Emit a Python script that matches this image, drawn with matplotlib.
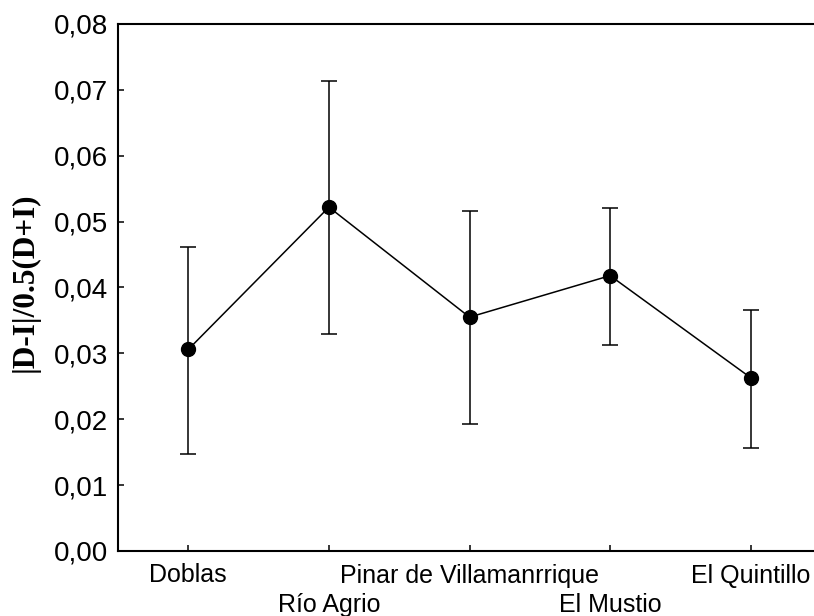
import matplotlib
matplotlib.use('Agg')
import matplotlib.pyplot as plt
import numpy as np

# data
sites = ['Doblas', 'Río Agrio', 'Pinar de Villamanrrique', 'El Mustio', 'El Quintillo']
means = [0.0306, 0.0522, 0.0355, 0.0418, 0.0263]
upper = [0.0462, 0.0713, 0.0516, 0.0521, 0.0366]
lower = [0.0147, 0.0329, 0.0193, 0.0313, 0.0156]
yticks = [0.0, 0.01, 0.02, 0.03, 0.04, 0.05, 0.06, 0.07, 0.08]

plt.rcParams['font.family'] = ['Liberation Sans', 'DejaVu Sans']

fig = plt.figure(figsize=(8.14, 6.16), dpi=100)
ax = fig.add_axes([118/814, 1 - 551/616, (814 - 118)/814, (551 - 24)/616])

x = np.arange(len(sites))
m = np.array(means)
err = [m - np.array(lower), np.array(upper) - m]
ax.errorbar(x, m, yerr=err, color='black', lw=1.1, elinewidth=1.1,
            capsize=6, capthick=1.1, marker='o', markersize=10,
            markerfacecolor='black', markeredgecolor='black')

ax.set_xlim(-0.5, 4.45)
ax.set_ylim(0, 0.08)
ax.set_yticks(yticks)
ax.set_yticklabels([('%.2f' % v).replace('.', ',') for v in yticks])

# staggered category labels: even ones on major ticks, odd ones on minor ticks
ax.set_xticks(x[::2])
ax.set_xticklabels(sites[::2])
ax.set_xticks(x[1::2], minor=True)
ax.set_xticklabels(sites[1::2], minor=True)

ax.tick_params(axis='y', direction='in', length=4, width=1.1, labelsize=20, pad=7)
ax.tick_params(axis='x', which='both', direction='in', length=4, width=1.1, labelsize=18)
ax.tick_params(axis='x', which='major', pad=9)
ax.tick_params(axis='x', which='minor', pad=30)
for s in ['left', 'bottom', 'top']:
    ax.spines[s].set_linewidth(1.5)
ax.spines['right'].set_visible(False)

ax.set_ylabel('|D-I|/0.5(D+I)', fontsize=22.5, fontweight='bold',
              family=['Liberation Serif', 'DejaVu Serif'])
ax.yaxis.set_label_coords(-0.113, 0.51)

fig.savefig('out.png', dpi=100)
